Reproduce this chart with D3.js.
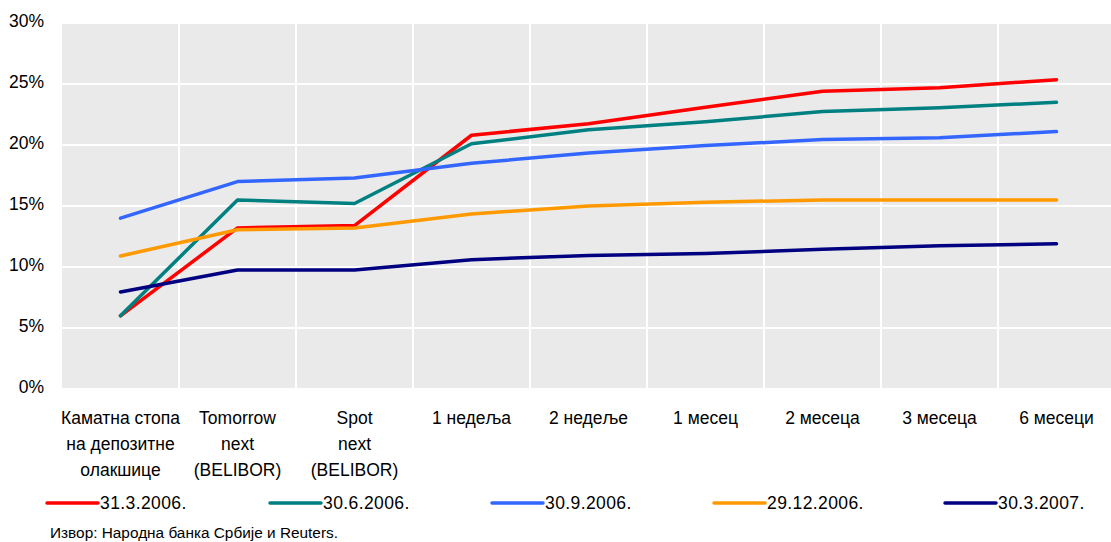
<!DOCTYPE html>
<html>
<head>
<meta charset="utf-8">
<script src="https://cdn.jsdelivr.net/npm/d3@7"></script>
<style>
  html, body { margin: 0; padding: 0; background: #fff; }
  svg { display: block; font-family: "Liberation Sans", Arial, sans-serif; }
</style>
</head>
<body>
<svg id="chart" width="1111" height="542"></svg>
<script>
const categories = [
  ["Каматна стопа", "на депозитне", "олакшице"],
  ["Tomorrow", "next", "(BELIBOR)"],
  ["Spot", "next", "(BELIBOR)"],
  ["1 недеља"],
  ["2 недеље"],
  ["1 месец"],
  ["2 месеца"],
  ["3 месеца"],
  ["6 месеци"]
];
const seriesNames = ["31.3.2006.", "30.6.2006.", "30.9.2006.", "29.12.2006.", "30.3.2007."];
const s2006Mar = [6.0, 13.2, 13.4, 20.8, 21.75, 23.1, 24.4, 24.7, 25.35];
const s2006Jun = [6.0, 15.5, 15.2, 20.1, 21.25, 21.9, 22.75, 23.05, 23.5];
const s2006Sep = [14.0, 17.0, 17.3, 18.5, 19.35, 19.95, 20.45, 20.6, 21.1];
const s2006Dec = [10.9, 13.05, 13.2, 14.35, 15.0, 15.3, 15.5, 15.5, 15.5];
const s2007Mar = [7.95, 9.75, 9.75, 10.6, 10.95, 11.1, 11.45, 11.75, 11.9];
const yTicks = [0, 5, 10, 15, 20, 25, 30];
const sourceText = "Извор: Народна банка Србије и Reuters.";

const colors = ["#FF0000", "#008080", "#3366FF", "#FF9900", "#000080"];
const seriesValues = [s2006Mar, s2006Jun, s2006Sep, s2006Dec, s2007Mar];

const svg = d3.select("#chart");
const plot = { left: 62, right: 1115, top: 23, bottom: 389 };
const keys = categories.map((c, i) => i);

const x = d3.scaleBand().domain(keys).range([plot.left, plot.right]).paddingInner(0).paddingOuter(0);
const y = d3.scaleLinear().domain([0, 30]).range([plot.bottom, plot.top]);

// background
svg.append("rect")
  .attr("x", plot.left).attr("y", plot.top)
  .attr("width", plot.right - plot.left).attr("height", plot.bottom - plot.top)
  .attr("fill", "#EAEAEA");

// horizontal gridlines
svg.append("g").selectAll("line").data(yTicks).join("line")
  .attr("x1", plot.left).attr("x2", plot.right)
  .attr("y1", d => y(d)).attr("y2", d => y(d))
  .attr("stroke", "#fff").attr("stroke-width", 2);

// vertical gridlines (between categories)
svg.append("g").selectAll("line").data(keys.slice(1)).join("line")
  .attr("x1", d => x(d)).attr("x2", d => x(d))
  .attr("y1", plot.top).attr("y2", plot.bottom)
  .attr("stroke", "#fff").attr("stroke-width", 2);

// y axis
const yAxis = svg.append("g")
  .attr("transform", `translate(${plot.left},0)`)
  .call(d3.axisLeft(y).tickValues(yTicks).tickFormat(d => d + "%").tickSize(0).tickPadding(18));
yAxis.select(".domain").remove();
yAxis.selectAll("text")
  .attr("font-size", "17.5px").attr("fill", "#000")
  .attr("font-family", "Liberation Sans, Arial, sans-serif")
  .attr("dy", "0.32em").attr("y", -2);

// x axis
const xAxis = svg.append("g")
  .attr("transform", `translate(0,${plot.bottom})`)
  .call(d3.axisBottom(x).tickSize(0).tickFormat(""));
xAxis.select(".domain").remove();
xAxis.selectAll(".tick").each(function(d) {
  const t = d3.select(this).append("text")
    .attr("fill", "#000").attr("font-size", "17.5px")
    .attr("font-family", "Liberation Sans, Arial, sans-serif")
    .attr("text-anchor", "middle");
  categories[d].forEach((line, i) => {
    t.append("tspan").attr("x", 0).attr("y", 35 + i * 26).text(line);
  });
});

// lines
const lineGen = d3.line()
  .x((d, i) => x(i) + x.bandwidth() / 2)
  .y(d => y(d));
svg.append("g").selectAll("path").data(seriesValues).join("path")
  .attr("d", d => lineGen(d))
  .attr("fill", "none")
  .attr("stroke", (d, i) => colors[i])
  .attr("stroke-width", 3.5)
  .attr("stroke-linejoin", "round")
  .attr("stroke-linecap", "round");

// legend
const legendX = [47, 270, 492, 714, 945];
const legendY = 503;
const lg = svg.append("g").selectAll("g").data(seriesNames).join("g")
  .attr("transform", (d, i) => `translate(${legendX[i]},${legendY})`);
lg.append("line")
  .attr("x1", 0).attr("x2", 51).attr("y1", 0).attr("y2", 0)
  .attr("stroke", (d, i) => colors[i]).attr("stroke-width", 3.5)
  .attr("stroke-linecap", "round");
lg.append("text")
  .attr("x", 53).attr("y", 0).attr("dy", "0.35em")
  .attr("font-size", "17.5px").attr("fill", "#000")
  .attr("letter-spacing", "0.4px")
  .text(d => d);

// source
svg.append("text")
  .attr("x", 50).attr("y", 538)
  .attr("font-size", "14px").attr("fill", "#000")
  .attr("textLength", 288).attr("lengthAdjust", "spacingAndGlyphs")
  .text(sourceText);
</script>
</body>
</html>
